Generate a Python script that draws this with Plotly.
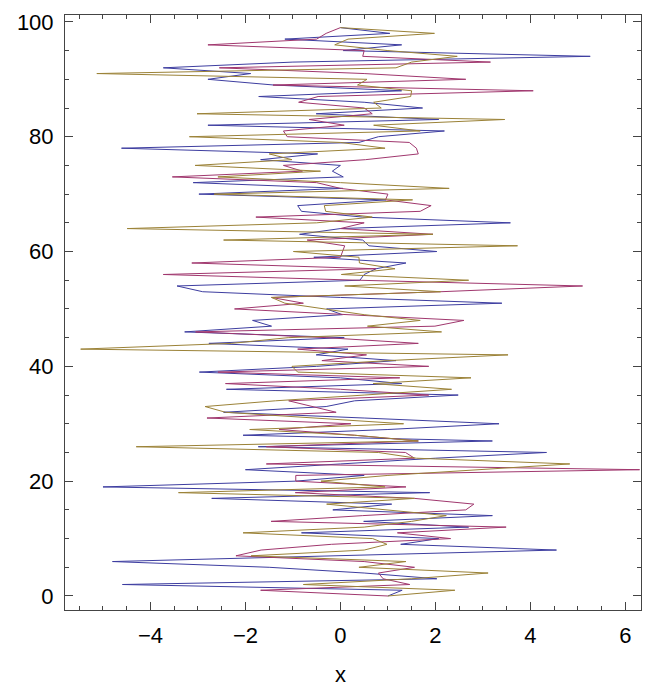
import plotly.graph_objects as go

y_vals = list(range(100))

blue_x = [1.0, 1.3, -4.59, 2.03, 0.5, -1.5, -4.8, 0.0, 4.55, 1.27,
          2.07, -0.82, 2.7, 0.49, 3.2, -0.16, 1.08, -2.71, 1.88, -5.0,
          -0.95, 0.5, -2.0, 0.0, 2.0, 4.34, -1.73, 3.2, -2.05, 1.0,
          3.34, 0.5, -2.46, -0.3, 0.3, 2.48, -2.4, 1.29, 0.0, -2.97,
          -0.5, 1.17, -0.51, 0.16, -2.77, 0.08, -3.28, -1.45, -1.85, 0.04,
          -0.29, 3.4, 0.0, -2.9, -3.44, 0.41, 0.5, 0.75, 1.38, -0.56,
          2.03, 0.6, 0.47, -0.86, 0.0, 3.58, 0.47, -0.82, -0.9, 0.96,
          -2.98, 0.05, -3.1, 0.06, -0.17, 0.0, -1.68, -0.48, -4.61, 0.39,
          0.8, 2.19, -2.79, 2.07, -0.51, 1.73, 0.5, -1.72, 1.29, -1.4,
          -2.79, -1.89, -3.73, -1.0, 5.26, 0.06, 1.29, -1.17, 1.04, 0.0]

magenta_x = [1.0, -1.68, 1.46, 0.9, 0.8, 1.56, 0.5, -2.2, -1.67, -0.19,
             2.32, 1.2, 3.49, -1.46, 0.47, 2.64, 2.81, 1.56, -0.95, 1.38,
             -0.94, -0.94, 6.3, -1.56, 1.56, 1.37, -1.56, 1.64, 0.3, -1.29,
             0.22, -2.81, -0.09, -0.6, -1.09, 1.86, 0.0, -2.42, 1.25, -2.58,
             1.86, -0.39, 0.55, -0.9, 1.64, -0.3, -3.05, 1.99, 2.6, 0.16,
             -2.23, -0.78, -1.45, 2.11, 5.1, 0.39, -3.73, 0.75, -3.13, 0.0,
             0.04, 0.09, -0.7, 1.95, 0.0, 0.5, -1.78, 1.68, 1.91, 0.95,
             1.0, 0.0, -0.5, -3.54, -0.8, -1.2, 0.53, 1.64, 1.6, 1.45,
             -1.12, -1.2, 0.08, -0.66, 0.67, 0.5, -0.88, -0.47, 4.06, -1.42,
             2.64, 0.5, -2.55, 3.16, 0.47, 0.5, -2.79, -0.5, -0.3, 0.0]

olive_x = [1.0, 2.41, -0.78, 1.5, 3.11, 0.39, 1.38, -1.88, 0.5, 0.98,
           0.68, -2.05, 0.5, 1.5, 2.23, 1.0, -0.29, 1.56, -3.41, 0.94,
           -0.41, 1.0, 2.8, 4.83, 1.6, 0.8, -4.3, 1.64, 0.3, -1.91,
           1.33, -0.5, -2.42, -2.85, -1.37, 0.5, 2.34, 0.69, 2.75, -0.9,
           -1.02, 1.0, 3.53, -5.47, -2.3, -1.1, 2.13, 0.57, 1.68, 0.5,
           -0.31, -1.17, -1.45, 2.11, 0.09, 2.7, 0.02, 1.15, 0.4, 0.39,
           -0.99, 3.73, -2.46, 1.95, -4.49, -0.5, 0.67, -0.31, -0.34, 1.52,
           -2.66, 2.29, 0.0, -2.58, -0.42, -3.06, -1.02, -1.5, 0.94, 0.0,
           -3.18, 1.68, 0.7, 3.46, -3.02, 0.86, 0.7, 1.48, 1.5, 0.36,
           0.56, -5.13, 1.17, 1.5, 2.46, 1.0, -0.12, 0.16, 1.98, 0.0]

x_ticks = [-4, -2, 0, 2, 4, 6]
y_ticks = [0, 20, 40, 60, 80, 100]
x_label = "x"

series = [
    ("blue", blue_x, "rgb(61,61,160)"),
    ("magenta", magenta_x, "rgb(160,55,110)"),
    ("olive", olive_x, "rgb(155,130,55)"),
]

fig = go.Figure()
for name, xs, col in series:
    fig.add_trace(go.Scatter(x=xs, y=y_vals, mode="lines", name=name,
                             line=dict(color=col, width=1), showlegend=False))

font_fam = "Liberation Sans, Arial, Helvetica"
axis_common = dict(
    showgrid=False, zeroline=False, showline=True, linecolor="#444444",
    linewidth=1, mirror="ticks", ticks="inside", ticklen=8, tickwidth=1,
    tickcolor="#444444", tickfont=dict(family=font_fam, size=22, color="black"),
    ticklabelstandoff=6, automargin=False,
)

fig.update_xaxes(range=[-5.80, 6.33], tickvals=x_ticks,
                 minor=dict(dtick=0.5, tick0=0, ticks="inside", ticklen=4, tickcolor="#444444"),
                 **axis_common)
fig.update_yaxes(range=[-2.44, 101.2], tickvals=y_ticks,
                 minor=dict(dtick=5, tick0=0, ticks="inside", ticklen=4, tickcolor="#444444"),
                 **axis_common)

fig.add_annotation(text=x_label, xref="paper", yref="paper", x=0.479, y=-0.108,
                   xanchor="center", yanchor="middle", showarrow=False,
                   font=dict(family=font_fam, size=22, color="black"))

fig.update_layout(width=644, height=681, margin=dict(l=57, r=11, t=7, b=79),
                  plot_bgcolor="white", paper_bgcolor="white")

fig.write_html("out.html")
